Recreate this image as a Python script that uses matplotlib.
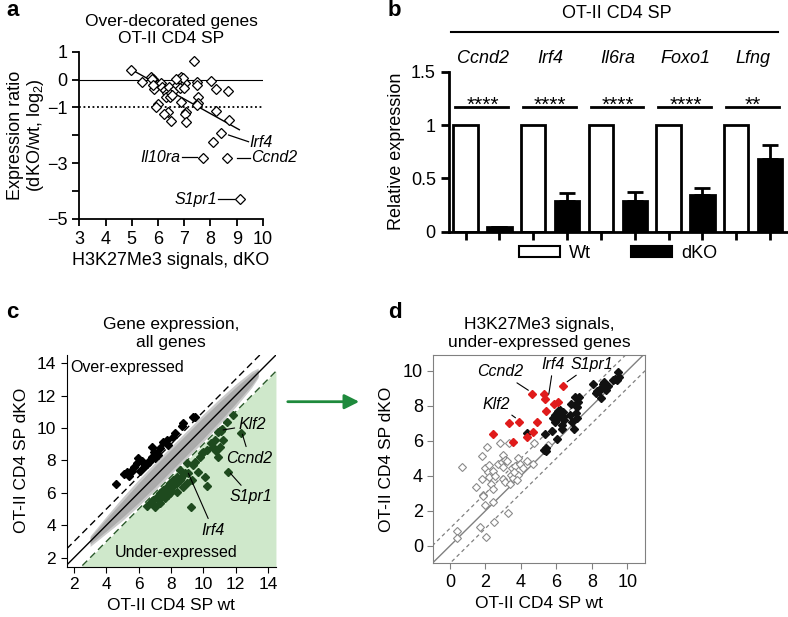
import numpy as np
import matplotlib
matplotlib.use("Agg")
import matplotlib.pyplot as plt
from matplotlib.patches import Patch, FancyArrowPatch
from matplotlib.lines import Line2D

plt.rcParams['font.family'] = ['Liberation Sans', 'DejaVu Sans']
plt.rcParams['font.size'] = 12
plt.rcParams['mathtext.fontset'] = 'custom'
plt.rcParams['mathtext.rm'] = 'Liberation Sans'
plt.rcParams['mathtext.it'] = 'Liberation Sans:italic'

# ---- panel a: over-decorated genes
a_x = [4.99, 7.38, 5.40, 5.73, 5.81, 5.76, 5.85, 6.11, 6.17, 6.26, 6.35, 6.42, 6.30,
       6.45, 6.51, 6.64, 6.73, 6.80, 6.86, 6.91, 7.02, 6.83, 6.86, 6.00, 5.94, 6.38,
       6.22, 6.51, 7.06, 7.02, 7.05, 7.49, 7.49, 7.52, 7.52, 7.47, 8.03, 8.20, 8.66,
       8.20, 8.70, 8.41, 8.10, 7.72, 8.63, 9.11, 6.95, 6.70, 5.80, 6.55, 7.00]
a_y = [0.34, 0.67, -0.10, 0.08, 0.01, 0.03, -0.35, -0.13, -0.25, -0.37, -0.47, -0.25,
       -0.61, -0.61, -0.49, -0.35, -0.19, 0.01, 0.08, -0.07, -0.13, -0.31, -0.81, -0.89,
       -0.98, -1.17, -1.24, -1.48, -1.17, -1.23, -1.53, -0.10, -0.18, -0.61, -0.85, -0.90,
       -0.04, -0.35, -0.40, -1.13, -1.45, -1.90, -2.23, -2.80, -2.82, -4.28, 0.05, 0.02,
       -0.18, -0.55, -0.30]
a_fit_x = [5.0, 9.1]
a_fit_y = [0.35, -1.8]
a_labels = ['Irf4', 'Il10ra', 'Ccnd2', 'S1pr1']
a_lead_start = [(8.69, -1.99), (6.90, -2.78), (9.00, -2.80), (8.30, -4.29)]
a_lead_end = [(9.45, -2.23), (7.48, -2.78), (9.51, -2.80), (8.88, -4.29)]
a_label_txt = [(9.5, -2.27), (6.86, -2.78), (9.56, -2.80), (8.26, -4.29)]

# ---- panel b: qPCR
b_genes = ['Ccnd2', 'Irf4', 'Il6ra', 'Foxo1', 'Lfng']
b_wt = [1, 1, 1, 1, 1]
b_dko = [0.04, 0.29, 0.29, 0.34, 0.68]
b_dko_err = [0.0, 0.07, 0.08, 0.07, 0.13]
b_stars = ['****', '****', '****', '****', '**']

# ---- panel c: all genes
c_over_x = [4.63, 5.08, 5.38, 5.49, 5.28, 5.69, 5.90, 5.94, 6.06, 6.21, 6.35, 6.51, 6.62,
            6.82, 6.82, 6.96, 7.03, 7.13, 7.23, 7.33, 7.54, 7.74, 7.85, 8.11, 8.26, 8.71,
            8.77, 9.38, 9.49, 6.40, 6.70, 5.60]
c_over_y = [6.55, 7.17, 7.05, 7.31, 7.31, 7.62, 7.83, 8.18, 7.37, 7.99, 7.62, 7.79, 7.93,
            8.81, 8.24, 8.55, 8.14, 8.44, 8.34, 8.75, 9.16, 9.27, 8.96, 9.47, 9.72, 10.13,
            10.34, 10.71, 10.71, 7.70, 8.05, 7.35]
c_under_x = [12.36, 11.54, 9.22, 10.21, 10.10, 10.92, 11.23, 10.92, 11.18, 9.08, 9.69, 9.38,
             9.79, 10.21, 10.51, 9.90, 9.00, 8.56, 8.36, 8.15, 7.95, 7.74, 7.54, 7.33, 7.13,
             6.92, 6.72, 6.51, 7.03, 7.33, 7.64, 7.95, 7.80, 8.36, 8.77, 8.97, 9.28, 8.36,
             8.10, 8.56, 10.72, 11.03, 10.62, 10.80, 11.44, 11.85, 11.10, 7.50, 7.20, 7.70,
             8.00, 8.20, 8.90, 9.50, 10.00, 6.80, 7.40, 8.60]
c_under_y = [9.68, 7.31, 5.15, 6.45, 7.00, 8.24, 9.27, 9.78, 9.93, 7.21, 7.31, 7.72, 8.24,
             8.65, 9.06, 8.44, 7.83, 7.42, 7.00, 6.80, 6.59, 6.39, 6.18, 5.98, 5.77, 5.56,
             5.36, 5.21, 5.15, 5.36, 5.67, 5.98, 5.85, 6.08, 6.39, 6.59, 6.80, 6.59, 6.40,
             6.80, 9.27, 8.86, 8.86, 8.60, 10.40, 10.80, 9.80, 6.00, 5.60, 6.10, 6.20, 6.55,
             7.20, 7.90, 8.50, 5.50, 5.75, 6.90]
# outline of the dense grey cloud of unchanged genes
band_x = [3.0, 4.0, 5.0, 6.0, 7.0, 8.0, 9.0, 10.0, 11.0, 12.0, 13.0, 13.4]
band_hi = [3.35, 4.55, 5.72, 6.82, 7.85, 8.85, 9.85, 10.85, 11.8, 12.7, 13.5, 13.7]
band_lo = [2.7, 3.5, 4.3, 5.2, 6.15, 7.15, 8.15, 9.15, 10.2, 11.3, 12.5, 13.1]
core_hi = [3.25, 4.4, 5.5, 6.6, 7.65, 8.65, 9.65, 10.65, 11.6, 12.5, 13.35, 13.6]
core_lo = [2.85, 3.65, 4.5, 5.4, 6.35, 7.35, 8.35, 9.35, 10.4, 11.5, 12.65, 13.2]
c_labels = ['Klf2', 'Ccnd2', 'S1pr1', 'Irf4']
c_label_pts = [(11.23, 9.88), (12.42, 9.62), (11.68, 7.21), (9.08, 7.21)]
c_label_txt = [(12.2, 10.19), (12.87, 8.14), (12.97, 5.77), (10.62, 3.71)]

# ---- panel d: H3K27Me3 signals
d_red_x = [2.41, 3.35, 3.89, 3.57, 4.61, 4.92, 4.66, 4.36, 5.30, 5.36, 5.39, 5.88, 6.11, 6.35]
d_red_y = [6.38, 7.03, 7.05, 5.94, 8.67, 7.05, 6.51, 6.19, 8.70, 8.38, 7.71, 8.13, 8.23, 9.14]
d_blk_x = [4.36, 5.36, 5.39, 5.30, 5.41, 5.73, 6.05, 6.30, 6.32, 5.83, 5.92, 6.02, 6.20, 6.39,
           6.35, 6.43, 5.92, 6.77, 6.80, 7.11, 7.14, 7.24, 7.29, 7.05, 6.99, 7.14, 6.86, 8.08,
           8.23, 8.42, 8.55, 8.68, 8.80, 8.93, 8.50, 9.17, 9.45, 9.51, 9.40, 8.27, 8.61, 6.10,
           6.15, 6.00, 9.30]
d_blk_y = [6.42, 6.36, 5.56, 5.50, 5.41, 6.57, 6.10, 6.65, 6.93, 7.28, 7.47, 7.60, 7.75, 7.66,
           7.37, 7.18, 7.09, 7.47, 8.13, 7.60, 7.94, 8.23, 8.48, 8.48, 6.65, 7.28, 7.09, 9.24,
           8.74, 8.86, 9.09, 9.37, 8.93, 9.12, 8.42, 9.50, 9.94, 9.62, 9.50, 8.86, 9.24, 7.72,
           7.40, 7.20, 9.55]
d_open_x = [0.66, 1.47, 1.79, 1.79, 2.07, 1.97, 2.16, 2.22, 2.31, 2.41, 1.88, 1.84, 1.97, 2.44,
            2.20, 2.41, 2.82, 2.73, 2.91, 3.01, 3.10, 3.23, 3.35, 2.97, 3.10, 3.42, 3.38, 3.57,
            3.48, 3.67, 3.85, 3.95, 4.14, 4.32, 3.85, 3.80, 3.29, 2.48, 1.69, 2.01, 0.41, 0.41,
            4.70, 4.76, 5.55, 2.55, 3.00, 3.60]
d_open_y = [4.48, 3.37, 3.79, 5.12, 5.66, 4.42, 4.23, 3.94, 3.56, 3.24, 2.90, 2.86, 2.32, 2.51,
            4.61, 4.29, 5.89, 4.70, 4.80, 5.18, 4.93, 4.86, 5.89, 3.79, 3.66, 4.04, 3.56, 3.85,
            4.42, 4.55, 4.99, 4.67, 4.42, 4.86, 4.04, 3.75, 1.85, 1.37, 1.05, 0.48, 0.84, 0.42,
            4.70, 5.85, 5.75, 4.00, 4.50, 4.20]
d_labels = ['Ccnd2', 'Irf4', 'S1pr1', 'Klf2']
d_label_pts = [(4.55, 8.80), (5.55, 8.51), (6.48, 9.28), (3.82, 7.22)]
d_label_txt = [(2.82, 9.94), (5.83, 10.38), (7.99, 10.38), (2.63, 8.10)]

green = '#1e8a3c'
dark_green = '#1e4a1e'
red = '#e01b1b'
lab_fs = 11.5

fig = plt.figure(figsize=(7.88, 6.17), dpi=100)

# ================= a
ax = fig.add_axes([0.1006, 0.6451, 0.2331, 0.2712])
ax.axhline(0, color='black', lw=0.8)
ax.axhline(-1, color='black', lw=1.3, ls=(0, (1, 1.5)))
ax.plot(a_fit_x, a_fit_y, color='black', lw=1.0)
ax.plot(a_x, a_y, 'D', ms=5.2, mfc='white', mec='black', mew=0.9, ls='none')
for lab, p0, p1, tp in zip(a_labels, a_lead_start, a_lead_end, a_label_txt):
    ax.plot([p0[0], p1[0]], [p0[1], p1[1]], color='black', lw=0.9, clip_on=False)
    ha = 'right' if tp[0] < p0[0] else 'left'
    ax.text(tp[0], tp[1], lab, ha=ha, va='center', style='italic', fontsize=lab_fs,
            clip_on=False)
ax.set_xlim(3, 10)
ax.set_ylim(-5, 1)
ax.set_xticks(range(3, 11))
ax.set_yticks([1, 0, -1, -2, -3, -4, -5], ['1', '0', '\u22121', '', '\u22123', '', '\u22125'])
for s in ['top', 'right']:
    ax.spines[s].set_visible(False)
for s in ['left', 'bottom']:
    ax.spines[s].set_linewidth(1.3)
ax.tick_params(direction='out', length=5, width=1.3, labelsize=13)
ax.set_xlabel('H3K27Me3 signals, dKO', fontsize=13, labelpad=3)
ax.set_ylabel('Expression ratio\n(dKO/wt, log$_2$)', fontsize=13, labelpad=1,
              linespacing=1.05)
ax.set_title('Over-decorated genes\nOT-II CD4 SP', fontsize=12.5, pad=6, linespacing=1.2)

# ================= b
bx = fig.add_axes([0.5698, 0.6245, 0.4290, 0.2593])
pos_wt = np.arange(len(b_genes)) * 2
pos_dko = pos_wt + 1
bx.bar(pos_wt, b_wt, width=0.72, color='white', edgecolor='black', linewidth=2)
bx.bar(pos_dko, b_dko, width=0.72, color='black', edgecolor='black', linewidth=2,
       yerr=[np.zeros(len(b_dko)), b_dko_err], error_kw=dict(ecolor='black', elinewidth=2,
                                                           capsize=6, capthick=2))
for i, g in enumerate(b_genes):
    bx.plot([pos_wt[i] - 0.3, pos_dko[i] + 0.25], [1.17, 1.17], color='black', lw=2)
    bx.text(pos_wt[i] + 0.5, 1.13, b_stars[i], ha='center', va='baseline', fontsize=15)
    bx.text(pos_wt[i] + 0.5, 1.62, g, ha='center', va='center', style='italic',
            fontsize=13, clip_on=False)
bx.set_xlim(-0.49, 9.5)
bx.set_ylim(0, 1.5)
bx.set_yticks([0, 0.5, 1, 1.5], ['0', '0.5', '1', '1.5'])
bx.set_xticks(np.arange(10), [''] * 10)
for s in ['top', 'right']:
    bx.spines[s].set_visible(False)
for s in ['left', 'bottom']:
    bx.spines[s].set_linewidth(2)
bx.tick_params(direction='out', length=6, width=2, labelsize=13)
bx.set_ylabel('Relative expression', fontsize=13, labelpad=4)
handles = [Patch(facecolor='white', edgecolor='black', linewidth=1.5, label='Wt'),
           Patch(facecolor='black', edgecolor='black', linewidth=1.5, label='dKO')]
bx.legend(handles=handles, loc='center', bbox_to_anchor=(0.50, -0.135), ncol=2,
          frameon=False, fontsize=13, handlelength=2.3, handleheight=0.6,
          handletextpad=0.5, columnspacing=2.2, borderpad=0)
fig.text(617 / 788, 1 - 13 / 617, 'OT-II CD4 SP', ha='center', va='center', fontsize=13)
fig.add_artist(Line2D([450.7 / 788, 778 / 788], [1 - 31.7 / 617] * 2, color='black',
                      lw=1.5, transform=fig.transFigure))

# ================= c
cx = fig.add_axes([0.0846, 0.0815, 0.2656, 0.3431])
cx.set_xlim(1.55, 14.5)
cx.set_ylim(1.45, 14.5)
xs = np.array([1.55, 14.5])
cx.fill_between(xs, 1.45, xs - 1, color='#cfe8cb', lw=0, zorder=0)
cx.fill_between(band_x, band_lo, band_hi, color='#cbcbcb', lw=0, zorder=1)
cx.fill_between(band_x, core_lo, core_hi, color='#ababab', lw=0, zorder=1)
cx.plot(xs, xs, color='black', lw=1.0, zorder=2)
cx.plot(xs, xs + 1, color='black', lw=1.0, ls=(0, (5, 3)), zorder=2)
cx.plot(xs, xs - 1, color='#2a5a2a', lw=1.0, ls=(0, (5, 3)), zorder=2)
cx.plot(c_over_x, c_over_y, 'D', ms=3.8, color='black', ls='none', zorder=3)
cx.plot(c_under_x, c_under_y, 'D', ms=3.8, color=dark_green, ls='none', zorder=3)
for lab, pt, tp in zip(c_labels, c_label_pts, c_label_txt):
    ha = 'left' if lab == 'Klf2' else 'center'
    cx.annotate(lab, xy=pt, xytext=tp, ha=ha, va='center', style='italic', fontsize=lab_fs,
                arrowprops=dict(arrowstyle='-', lw=0.8, color='black', shrinkA=1, shrinkB=0),
                zorder=4)
cx.text(1.8, 13.7, 'Over-expressed', ha='left', va='center', fontsize=lab_fs)
cx.text(8.3, 2.3, 'Under-expressed', ha='center', va='center', fontsize=lab_fs)
cx.set_xticks(range(2, 15, 2))
cx.set_yticks(range(2, 15, 2))
for s in ['top', 'right']:
    cx.spines[s].set_visible(False)
cx.tick_params(direction='out', length=4, labelsize=12.5)
cx.set_xlabel('OT-II CD4 SP wt', fontsize=12.5, labelpad=4)
cx.set_ylabel('OT-II CD4 SP dKO', fontsize=12.5, labelpad=6)
cx.set_title('Gene expression,\nall genes', fontsize=12.5, pad=6, linespacing=1.2)

# ================= d
dx = fig.add_axes([0.5499, 0.0870, 0.2687, 0.3376])
dx.set_xlim(-0.94, 11.0)
dx.set_ylim(-1.0, 10.9)
xd = np.array([-1.0, 11.0])
dx.plot(xd, xd, color='#808080', lw=1.0)
dx.plot(xd, xd + 1, color='#808080', lw=0.9, ls=(0, (3, 2.5)))
dx.plot(xd, xd - 1, color='#808080', lw=0.9, ls=(0, (3, 2.5)))
dx.plot(d_open_x, d_open_y, 'D', ms=4, mfc='white', mec='#8a8a8a', mew=0.8, ls='none')
dx.plot(d_blk_x, d_blk_y, 'D', ms=3.6, color='#111111', ls='none')
dx.plot(d_red_x, d_red_y, 'D', ms=3.6, color=red, ls='none')
for lab, pt, tp in zip(d_labels, d_label_pts, d_label_txt):
    dx.annotate(lab, xy=pt, xytext=tp, ha='center', va='center', style='italic', fontsize=lab_fs,
                arrowprops=dict(arrowstyle='-', lw=0.8, color='black', shrinkA=1, shrinkB=2))
dx.set_xticks(range(0, 11, 2))
dx.set_yticks(range(0, 11, 2))
for s in dx.spines.values():
    s.set_color('#808080')
dx.tick_params(direction='out', length=4, color='#808080', labelsize=13)
dx.set_xlabel('OT-II CD4 SP wt', fontsize=12.5, labelpad=4)
dx.set_ylabel('OT-II CD4 SP dKO', fontsize=12.5, labelpad=6)
dx.set_title('H3K27Me3 signals,\nunder-expressed genes', fontsize=12.5, pad=6, linespacing=1.2)

# arrow from c to d
fig.add_artist(FancyArrowPatch((285 / 788, 1 - 401.7 / 617), (362 / 788, 1 - 401.7 / 617),
                               transform=fig.transFigure, arrowstyle='-|>', mutation_scale=22,
                               color=green, lw=2))

# panel letters
for lab, px, py in [('a', 6, 10), ('b', 388, 10), ('c', 6, 313), ('d', 388, 313)]:
    fig.text(px / 788, 1 - py / 617, lab, fontsize=16, fontweight='bold', ha='left', va='center')

fig.savefig('out.png', dpi=100)
